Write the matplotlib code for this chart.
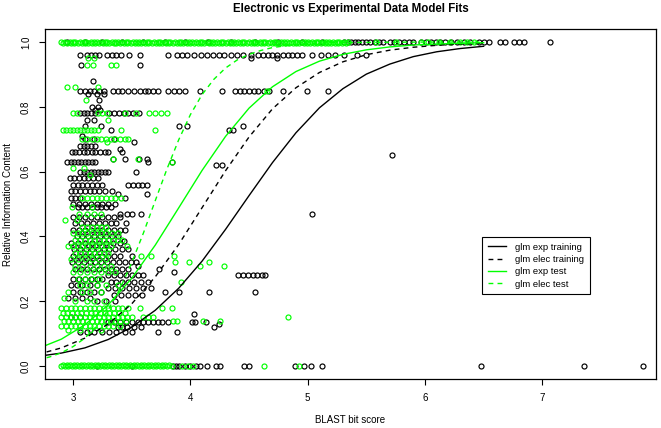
import matplotlib
matplotlib.use('Agg')
import matplotlib.pyplot as plt

plt.rcParams['font.family'] = ['Liberation Sans', 'DejaVu Sans']

# scatter data, grouped by information content level: (y, [bit scores])
black_rows = [
    (1.00, [2.95, 3.10, 3.25, 3.42, 3.60, 3.78, 3.95, 4.15, 4.35, 4.55, 4.75, 4.95, 5.12,
            5.31, 5.34, 5.37, 5.40, 5.43, 5.46, 5.50, 5.53, 5.57, 5.61, 5.64, 5.70, 5.74,
            5.78, 5.82, 5.86, 5.90, 5.97, 6.01, 6.05, 6.09, 6.13, 6.17, 6.22, 6.27, 6.33,
            6.38, 6.46, 6.50, 6.55, 6.64, 6.68, 6.76, 6.80, 6.84, 7.07]),
    (0.96, [3.06, 3.12, 3.15, 3.19, 3.22, 3.29, 3.33, 3.37, 3.41, 3.48, 3.57, 3.81, 3.89,
            3.93, 3.97, 4.03, 4.09, 4.14, 4.19, 4.24, 4.29, 4.35, 4.40, 4.45, 4.52, 4.58,
            4.62, 4.66, 4.70, 4.74, 4.79, 4.83, 4.87, 4.91, 4.95, 5.04, 5.11, 5.17, 5.23,
            5.31, 5.42, 5.50]),
    (0.95, [4.52, 4.74]),
    (0.93, [3.07, 3.57]),
    (0.88, [3.17]),
    (0.85, [3.06, 3.10, 3.14, 3.18, 3.22, 3.26, 3.34, 3.38, 3.42, 3.47, 3.52, 3.57, 3.61,
            3.64, 3.68, 3.72, 3.81, 3.86, 3.90, 3.95, 4.08, 4.27, 4.38, 4.42, 4.46, 4.50,
            4.54, 4.58, 4.63, 4.67, 4.79, 4.99, 5.17]),
    (0.84, [3.13, 3.20, 3.26]),
    (0.82, [3.22]),
    (0.80, [3.16, 3.21]),
    (0.79, [3.19, 3.23]),
    (0.78, [3.06, 3.09, 3.12, 3.15, 3.19, 3.31, 3.35, 3.39, 3.43, 3.47, 3.51, 3.56]),
    (0.76, [3.12, 3.18]),
    (0.74, [3.10, 3.24, 3.90, 3.97, 4.45]),
    (0.73, [3.32, 4.33, 4.36]),
    (0.71, [3.08]),
    (0.70, [3.10, 3.18, 3.35]),
    (0.69, [3.52]),
    (0.68, [3.06, 3.09, 3.12, 3.15, 3.19]),
    (0.67, [3.40]),
    (0.66, [2.99, 3.02, 3.05, 3.09, 3.12, 3.16, 3.19, 3.23, 3.27, 3.30, 3.42]),
    (0.65, [5.72]),
    (0.64, [3.34, 3.44, 3.56, 3.63]),
    (0.63, [2.95, 2.98, 3.01, 3.04, 3.07, 3.10, 3.13, 3.16, 3.19, 3.64, 3.84]),
    (0.62, [4.22, 4.27]),
    (0.60, [3.06, 3.09, 3.12, 3.15, 3.18, 3.21, 3.24, 3.27, 3.30, 3.54]),
    (0.58, [2.97, 3.01, 3.05, 3.09, 3.13, 3.17, 3.21]),
    (0.56, [3.00, 3.04, 3.08, 3.12, 3.16, 3.20, 3.25, 3.47, 3.51, 3.55, 3.59, 3.63]),
    (0.54, [2.98, 3.02, 3.06, 3.10, 3.14, 3.18, 3.22, 3.27, 3.33]),
    (0.53, [3.38, 3.63]),
    (0.52, [2.98, 3.02, 3.06, 3.44]),
    (0.50, [3.00, 3.05, 3.10, 3.15, 3.20, 3.25, 3.30, 3.36]),
    (0.49, [3.04, 3.08, 3.12, 3.16, 3.20, 3.24, 3.28, 3.32]),
    (0.47, [3.40, 3.46, 3.50, 3.58, 5.04]),
    (0.46, [3.00, 3.05, 3.10, 3.15, 3.20, 3.25, 3.30, 3.35, 3.40]),
    (0.44, [3.02, 3.07, 3.12, 3.17, 3.22, 3.27, 3.32, 3.37, 3.45]),
    (0.42, [3.00, 3.05, 3.10, 3.15, 3.20, 3.25, 3.30, 3.35, 3.40, 3.44]),
    (0.40, [3.03, 3.08, 3.13, 3.18, 3.23, 3.28, 3.33, 3.38]),
    (0.385, [3.43]),
    (0.38, [2.98, 3.04, 3.10, 3.16, 3.22, 3.28, 3.34, 3.40]),
    (0.36, [3.01, 3.06, 3.11, 3.16, 3.21, 3.26, 3.31, 3.36, 3.42, 3.47]),
    (0.34, [3.00, 3.05, 3.10, 3.15, 3.20, 3.25, 3.30, 3.35, 3.40, 3.50]),
    (0.32, [2.99, 3.04, 3.09, 3.14, 3.19, 3.24, 3.29, 3.34, 3.39, 3.44, 3.49, 3.54]),
    (0.31, [3.55]),
    (0.30, [3.02, 3.07, 3.12, 3.17, 3.22, 3.27, 3.32, 3.37, 3.42, 3.47, 3.73]),
    (0.29, [3.86]),
    (0.28, [3.30, 3.35, 3.40, 3.45, 3.50, 3.55, 3.60, 4.41, 4.45, 4.49, 4.53, 4.57, 4.61,
            4.64]),
    (0.27, [3.00, 3.05, 3.10, 3.15, 3.20, 3.25]),
    (0.26, [3.32, 3.37, 3.42, 3.47, 3.52, 3.58, 3.64]),
    (0.25, [2.98, 3.03, 3.08, 3.14, 3.20]),
    (0.24, [3.30, 3.36, 3.42, 3.48, 3.54, 3.60, 3.66]),
    (0.23, [3.00, 3.06, 3.12, 3.18, 3.24, 3.78, 3.90, 4.16, 4.55]),
    (0.22, [3.35, 3.41, 3.47, 3.53, 3.59]),
    (0.21, [2.96, 3.02, 3.08, 3.14]),
    (0.20, [3.20, 3.28, 3.36]),
    (0.16, [4.03]),
    (0.15, [2.98, 3.02, 3.06]),
    (0.135, [3.30, 3.35, 3.40, 3.45, 3.50, 3.55, 3.60, 3.64, 3.68, 3.72, 3.76, 3.81,
             4.01, 4.04, 4.13]),
    (0.13, [4.24]),
    (0.12, [3.38, 3.42, 3.46, 3.52, 3.58, 4.20]),
    (0.105, [3.06, 3.12, 3.18, 3.25, 3.31, 3.37, 3.44, 3.50, 3.72, 3.89]),
    (0.00, [3.20, 3.50, 3.85, 3.88, 3.90, 3.95, 4.00, 4.05, 4.08, 4.14, 4.22, 4.25, 4.46,
            4.50, 4.89, 4.97, 5.03, 5.12, 6.48, 7.36, 7.86]),
]

green_rows = [
    (1.00, [2.90, 2.93, 2.97, 3.00, 3.02, 3.06, 3.09, 3.11, 3.15, 3.18, 3.20, 3.24, 3.27,
            3.29, 3.33, 3.36, 3.38, 3.42, 3.45, 3.47, 3.51, 3.54, 3.56, 3.60, 3.63, 3.65,
            3.69, 3.72, 3.74, 3.78, 3.81, 3.83, 3.87, 3.90, 3.92, 3.96, 3.99, 4.01, 4.05,
            4.08, 4.10, 4.14, 4.17, 4.19, 4.23, 4.26, 4.28, 4.32, 4.35, 4.37, 4.41, 4.44,
            4.46, 4.50, 4.53, 4.55, 4.59, 4.62, 4.64, 4.68, 4.71, 4.73, 4.77, 4.80, 4.82,
            4.86, 4.89, 4.91, 4.95, 4.98, 5.00, 5.04, 5.07, 5.09, 5.13, 5.16, 5.18, 5.22,
            5.25, 5.27, 5.31, 5.34, 5.58, 5.75, 5.97, 6.03, 6.12, 6.21, 6.30, 6.36, 6.42]),
    (0.997, [2.915, 2.95, 2.985, 3.01, 3.04, 3.075, 3.10, 3.13, 3.165, 3.19, 3.22, 3.255,
             3.28, 3.31, 3.345, 3.37, 3.40, 3.435, 3.46, 3.49, 3.525, 3.55, 3.58, 3.615,
             3.64, 3.67, 3.705, 3.73, 3.76, 3.795, 3.82, 3.85, 3.885, 3.91, 3.94, 3.975,
             4.00, 4.03, 4.065, 4.09, 4.12, 4.155, 4.18, 4.21, 4.245, 4.27, 4.30, 4.335,
             4.36, 4.39, 4.425, 4.45, 4.48, 4.515, 4.54, 4.57, 4.605, 4.63, 4.66, 4.695,
             4.72, 4.75, 4.785, 4.81, 4.84, 4.875, 4.90, 4.93, 4.965, 4.99, 5.02, 5.055,
             5.08, 5.11, 5.145, 5.17, 5.20, 5.235, 5.26, 5.29, 5.325]),
    (0.95, [3.13, 3.18]),
    (0.93, [3.12, 3.17, 3.32, 3.37]),
    (0.86, [2.95, 3.02, 3.21]),
    (0.85, [4.65]),
    (0.82, [3.11]),
    (0.78, [3.00, 3.03, 3.21, 3.25, 3.29, 3.44, 3.54, 3.65, 3.70, 3.75, 3.80]),
    (0.76, [3.30]),
    (0.73, [2.91, 2.94, 2.97, 3.00, 3.03, 3.06, 3.09, 3.12, 3.15, 3.18, 3.21, 3.41, 3.70]),
    (0.70, [3.08, 3.12, 3.16, 3.20, 3.24, 3.28, 3.32, 3.36, 3.40, 3.44, 3.47]),
    (0.69, [3.29]),
    (0.64, [3.34, 3.55]),
    (0.63, [3.84]),
    (0.61, [3.00, 3.09]),
    (0.59, [3.14]),
    (0.52, [3.08, 3.12, 3.16, 3.20, 3.24, 3.28, 3.32, 3.36, 3.41]),
    (0.49, [2.99, 3.16]),
    (0.47, [3.05, 3.12, 3.18, 3.24]),
    (0.45, [2.93, 3.03]),
    (0.43, [3.08, 3.12, 3.16, 3.20, 3.24, 3.28]),
    (0.41, [3.00, 3.04, 3.08, 3.12, 3.16, 3.20, 3.24, 3.28, 3.33, 3.38]),
    (0.39, [3.02, 3.06, 3.10, 3.14, 3.18, 3.22, 3.26, 3.30, 3.34, 3.38, 3.42]),
    (0.37, [2.96, 3.00, 3.04, 3.08, 3.12, 3.16, 3.20, 3.24, 3.28, 3.32, 3.46]),
    (0.35, [3.02, 3.06, 3.10, 3.14, 3.18, 3.22, 3.26, 3.30]),
    (0.34, [3.58, 3.66, 3.86]),
    (0.33, [2.98, 3.04, 3.10, 3.16, 3.22, 3.28]),
    (0.32, [3.87, 3.99, 4.16]),
    (0.31, [3.02, 3.08, 3.14, 3.20, 3.26, 3.32, 4.08, 4.29]),
    (0.29, [3.00, 3.06, 3.12, 3.18, 3.24, 3.30, 3.36]),
    (0.27, [3.04, 3.10, 3.16, 3.22]),
    (0.26, [3.92]),
    (0.25, [3.06, 3.12, 3.20, 3.28, 3.38]),
    (0.23, [2.96, 3.08, 3.14, 3.24]),
    (0.21, [2.92]),
    (0.20, [3.02, 3.12, 3.18, 3.26]),
    (0.18, [2.90, 2.94, 2.98, 3.02, 3.06, 3.10, 3.14, 3.18, 3.22, 3.26, 3.30, 3.34, 3.38,
            3.42, 3.47, 3.57, 3.76, 3.84]),
    (0.165, [2.91, 2.95, 2.99, 3.03, 3.07, 3.11, 3.15, 3.19, 3.23, 3.27, 3.31, 3.35, 3.39,
             3.44]),
    (0.15, [2.90, 2.94, 2.98, 3.02, 3.06, 3.10, 3.14, 3.18, 3.22, 3.26, 3.30, 3.34, 3.38,
            3.42, 3.46, 3.50, 3.60, 3.64, 3.68, 4.83]),
    (0.14, [2.92, 2.96, 3.00, 3.04, 3.08, 3.12, 3.16, 3.20, 3.24, 3.28, 3.32, 3.36, 3.40,
            3.45, 3.85, 3.89, 4.11, 4.25]),
    (0.125, [2.90, 2.94, 2.98, 3.02, 3.06, 3.10, 3.14, 3.18, 3.22, 3.26, 3.30, 3.34, 3.40]),
    (0.11, [2.96, 3.06, 3.14, 3.24]),
    (0.00, [2.90, 2.93, 2.96, 2.99, 3.02, 3.05, 3.08, 3.11, 3.14, 3.17, 3.20, 3.23, 3.26,
            3.29, 3.32, 3.35, 3.38, 3.41, 3.44, 3.47, 3.50, 3.53, 3.56, 3.59, 3.62, 3.65,
            3.68, 3.71, 3.74, 3.77, 3.80, 3.84, 3.93, 3.98, 4.02, 4.63, 4.93]),
    (0.002, [2.915, 2.945, 2.975, 3.005, 3.035, 3.065, 3.095, 3.125, 3.155, 3.185, 3.215,
             3.245, 3.275, 3.305, 3.335, 3.365, 3.395, 3.425, 3.455, 3.485, 3.515, 3.545,
             3.575, 3.605, 3.635, 3.665, 3.695, 3.725, 3.755, 3.785, 3.82]),
]

# fitted glm curves
fit_x = [2.7, 2.9, 3.1, 3.3, 3.5, 3.7, 3.9, 4.1, 4.3, 4.5, 4.7, 4.9, 5.1, 5.3, 5.5, 5.7,
         5.9, 6.1, 6.3, 6.5]
exp_train = [0.030, 0.040, 0.056, 0.082, 0.120, 0.172, 0.240, 0.324, 0.422, 0.526, 0.628,
             0.720, 0.797, 0.856, 0.901, 0.932, 0.955, 0.970, 0.980, 0.987]
elec_train = [0.036, 0.056, 0.086, 0.130, 0.192, 0.275, 0.375, 0.489, 0.603, 0.707, 0.794,
              0.859, 0.906, 0.939, 0.961, 0.975, 0.984, 0.990, 0.994, 0.996]
exp_test = [0.054, 0.083, 0.127, 0.189, 0.271, 0.373, 0.488, 0.604, 0.709, 0.796, 0.862,
            0.909, 0.941, 0.962, 0.976, 0.985, 0.991, 0.994, 0.996, 0.998]
elec_test_x = [2.7, 2.8, 2.9, 3.0, 3.1, 3.2, 3.3, 3.4, 3.5, 3.6, 3.7, 3.8, 3.9, 4.0, 4.1,
               4.2, 4.3, 4.4, 4.5, 4.6, 4.7, 4.8, 5.0, 5.2, 5.5, 6.0, 6.5]
elec_test = [0.019, 0.028, 0.041, 0.060, 0.086, 0.123, 0.174, 0.239, 0.319, 0.411, 0.510,
             0.608, 0.698, 0.776, 0.838, 0.885, 0.920, 0.945, 0.962, 0.974, 0.983, 0.988,
             0.995, 0.998, 0.999, 1.0, 1.0]


def unpack(rows):
    xs, ys = [], []
    for y, row in rows:
        xs += row
        ys += [y] * len(row)
    return xs, ys


fig = plt.figure(figsize=(6.61, 4.28), dpi=100)
ax = fig.add_axes([0.068, 0.1145, 0.9245, 0.8175])

bx, by = unpack(black_rows)
gx, gy = unpack(green_rows)
ax.plot(bx, by, linestyle='', marker='o', markersize=3.6, markerfacecolor='none',
        markeredgecolor='black', markeredgewidth=0.85, zorder=1)
ax.plot(gx, gy, linestyle='', marker='o', markersize=3.6, markerfacecolor='none',
        markeredgecolor='#00ff00', markeredgewidth=0.85, zorder=1)

dash = (0, (3.5, 3))
ax.plot(fit_x, exp_train, color='black', lw=1, label='glm exp training', zorder=2)
ax.plot(fit_x, elec_train, color='black', lw=1, linestyle=dash, label='glm elec training', zorder=2)
ax.plot(fit_x, exp_test, color='#00ff00', lw=1, label='glm exp test', zorder=2)
ax.plot(elec_test_x, elec_test, color='#00ff00', lw=1, linestyle=dash, label='glm elec test', zorder=2)

ax.set_xlim(2.76, 7.97)
ax.set_ylim(-0.04, 1.04)
ax.set_xticks([3, 4, 5, 6, 7])
ax.set_yticks([0.0, 0.2, 0.4, 0.6, 0.8, 1.0])
ax.set_yticklabels(['0.0', '0.2', '0.4', '0.6', '0.8', '1.0'], rotation=90, va='center')
ax.tick_params(labelsize=7, length=4, width=0.8, pad=6)
for s in ax.spines.values():
    s.set_linewidth(0.9)

ax.set_xlabel('BLAST bit score', fontsize=7, labelpad=9)
ax.set_ylabel('Relative Information Content', fontsize=7, labelpad=6)
ax.set_title('Electronic vs Experimental Data Model Fits', fontsize=8.3, fontweight='bold', pad=12)

leg = ax.legend(loc='upper left', bbox_to_anchor=(0.715, 0.406), fontsize=6.8,
                frameon=True, fancybox=False, framealpha=1, edgecolor='black',
                handlelength=2.0, handletextpad=0.9, labelspacing=0.35, borderpad=0.6,
                borderaxespad=0)
leg.get_frame().set_linewidth(0.8)

fig.savefig('out.png', dpi=100)
